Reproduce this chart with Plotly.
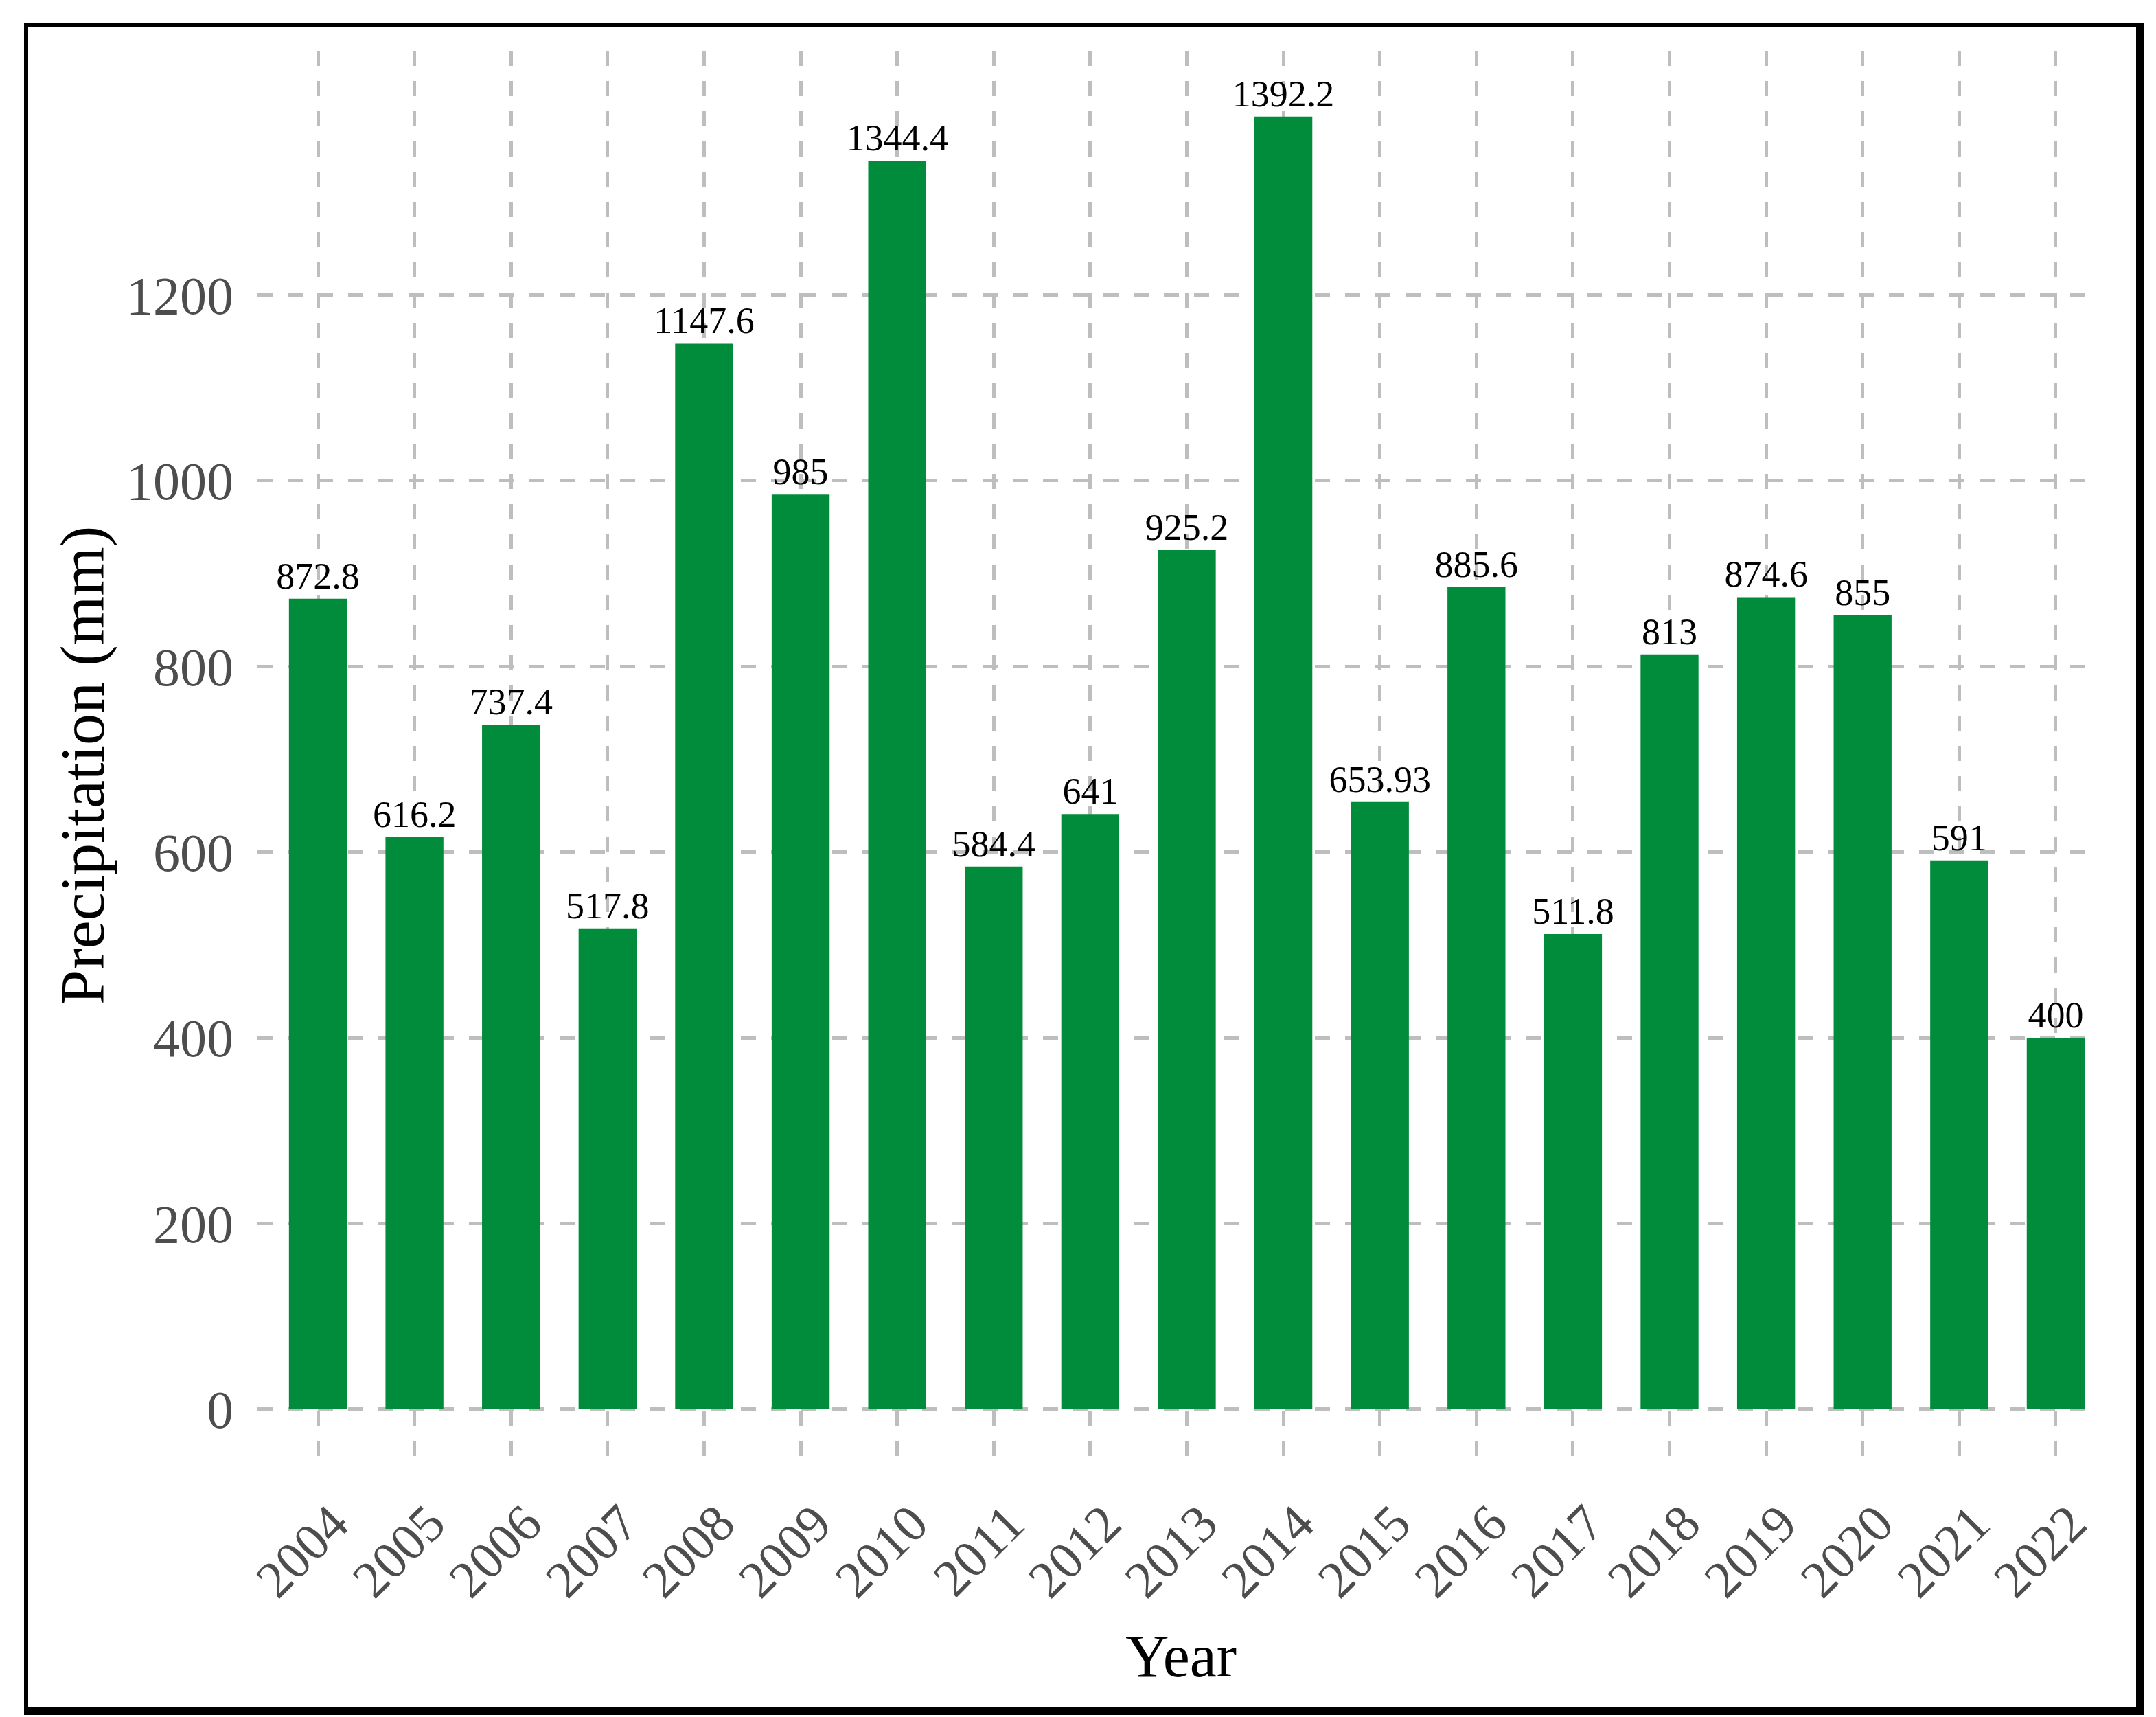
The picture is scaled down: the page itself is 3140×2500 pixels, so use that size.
import plotly.graph_objects as go

years = ["2004", "2005", "2006", "2007", "2008", "2009", "2010", "2011", "2012", "2013",
         "2014", "2015", "2016", "2017", "2018", "2019", "2020", "2021", "2022"]
precip = [872.8, 616.2, 737.4, 517.8, 1147.6, 985, 1344.4, 584.4, 641, 925.2,
          1392.2, 653.93, 885.6, 511.8, 813, 874.6, 855, 591, 400]
labels = ["872.8", "616.2", "737.4", "517.8", "1147.6", "985", "1344.4", "584.4", "641", "925.2",
          "1392.2", "653.93", "885.6", "511.8", "813", "874.6", "855", "591", "400"]
y_ticks = [0, 200, 400, 600, 800, 1000, 1200]

W, H = 3140, 2500
ML, MR, MT, MB = 367, 95, 66, 367
PW, PH = W - ML - MR, H - MT - MB

FONT = "Liberation Serif"
GRID = "#bebebe"

fig = go.Figure()
fig.add_trace(go.Bar(
    x=years, y=precip, text=labels, textposition="outside",
    textfont=dict(family=FONT, size=54, color="black"),
    marker=dict(color="#008c3a", line=dict(width=0)),
    width=0.6, cliponaxis=False, constraintext="none",
    hoverinfo="skip",
))

def px_x(p):
    return (p - ML) / PW

def px_y(p):
    return (H - MB - p) / PH

# frame around whole figure (decorative)
frame = [
    (27, 26, 3115, 32),     # top
    (27, 2478, 3115, 2489),  # bottom
    (27, 26, 33, 2489),     # left
    (3103, 26, 3115, 2489),  # right
]
shapes = []
for x0, y0, x1, y1 in frame:
    shapes.append(dict(type="rect", xref="paper", yref="paper",
                       x0=px_x(x0), x1=px_x(x1), y0=px_y(y1), y1=px_y(y0),
                       fillcolor="black", line=dict(width=0), layer="above"))

fig.update_layout(
    width=W, height=H,
    margin=dict(l=ML, r=MR, t=MT, b=MB, pad=0),
    paper_bgcolor="white", plot_bgcolor="white",
    showlegend=False,
    bargap=0.4,
    shapes=shapes,
    font=dict(family=FONT, color="black"),
    xaxis=dict(
        type="category", range=[-0.626, 18.42],
        showgrid=True, gridcolor=GRID, gridwidth=5, griddash="22px,22px",
        showline=False, zeroline=False, ticks="",
        tickangle=-45, tickfont=dict(family=FONT, size=76, color="#4d4d4d"),
        ticklabelstandoff=16, ticklabelshift=22,
    ),
    yaxis=dict(
        range=[-66, 1463], tickvals=y_ticks, ticktext=[str(v) for v in y_ticks],
        showgrid=True, gridcolor=GRID, gridwidth=5, griddash="22px,22px",
        showline=False, zeroline=False, ticks="",
        tickfont=dict(family=FONT, size=78, color="#4d4d4d"),
        ticklabelstandoff=34,
    ),
    annotations=[
        dict(text="Year", xref="paper", yref="paper", x=px_x(1712), y=px_y(2403),
             xanchor="center", yanchor="middle", showarrow=False,
             font=dict(family=FONT, size=88, color="black")),
        dict(text="Precipitation (mm)", xref="paper", yref="paper", x=px_x(112), y=px_y(1106),
             xanchor="center", yanchor="middle", showarrow=False, textangle=-90,
             font=dict(family=FONT, size=92, color="black")),
    ],
)

fig.write_html("out.html")
